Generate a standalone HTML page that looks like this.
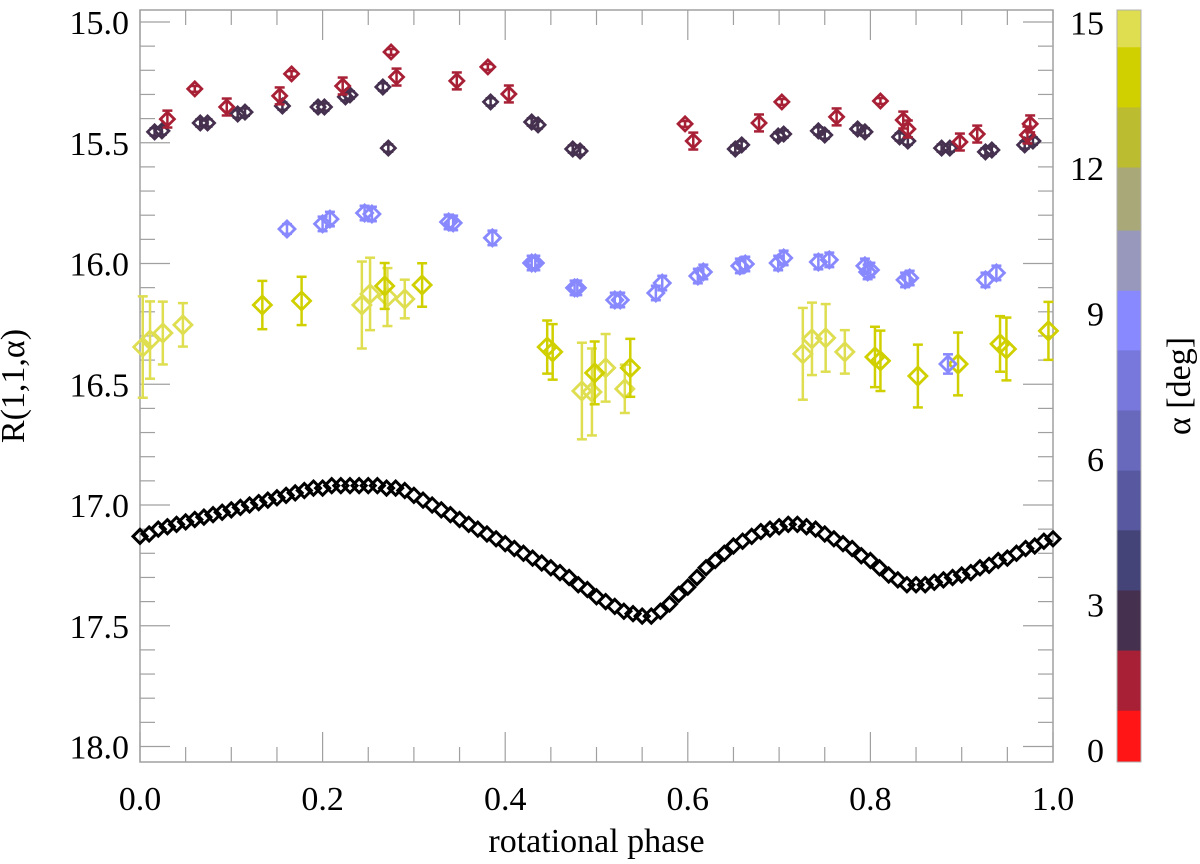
<!DOCTYPE html>
<html><head><meta charset="utf-8"><style>
html,body{margin:0;padding:0;background:#fff}
svg{display:block}
text{font-family:"Liberation Serif",serif;fill:#000}
</style></head><body>
<svg id="chart" width="1200" height="864" viewBox="0 0 1200 864" xmlns="http://www.w3.org/2000/svg"></svg>
<script>
// ---- data ----
const xTicks=[0,0.2,0.4,0.6,0.8,1.0];
const xTickLabels=["0.0","0.2","0.4","0.6","0.8","1.0"];
const yTicks=[15.0,15.5,16.0,16.5,17.0,17.5,18.0];
const yTickLabels=["15.0","15.5","16.0","16.5","17.0","17.5","18.0"];
const cbTicks=[0,3,6,9,12,15];
const cbEdges=[-0.25,0.82,2.06,3.30,4.54,5.77,7.01,8.25,9.48,10.72,12.02,13.26,14.5,15.26];
const cbColors=["#ff1515","#a82035","#46304f","#444478","#5858a0","#6868bc","#7878dc","#8888ff","#9898bc","#a8a878","#bcbc30","#d0d000","#dede50"];

const blackPhase=[0,.01,.02,.03,.04,.05,.06,.07,.08,.09,.10,.11,.12,.13,.14,.15,.16,.17,.18,.19,.20,.21,.22,.23,.24,.25,.26,.27,.28,.29,.30,.31,.32,.33,.34,.35,.36,.37,.38,.39,.40,.41,.42,.43,.44,.45,.46,.47,.48,.49,.50,.51,.52,.53,.54,.55,.56,.57,.58,.59,.60,.61,.62,.63,.64,.65,.66,.67,.68,.69,.70,.71,.72,.73,.74,.75,.76,.77,.78,.79,.80,.81,.82,.83,.84,.85,.86,.87,.88,.89,.90,.91,.92,.93,.94,.95,.96,.97,.98,.99,1.0];
const blackMag=[17.13,17.12,17.10,17.09,17.08,17.07,17.06,17.05,17.04,17.03,17.02,17.01,17.00,16.99,16.98,16.97,16.96,16.95,16.94,16.93,16.93,16.92,16.92,16.92,16.92,16.92,16.92,16.93,16.93,16.94,16.96,16.98,17.00,17.02,17.04,17.06,17.08,17.10,17.12,17.14,17.16,17.18,17.20,17.22,17.24,17.26,17.28,17.30,17.33,17.35,17.38,17.40,17.42,17.44,17.45,17.46,17.46,17.44,17.41,17.37,17.34,17.30,17.26,17.23,17.20,17.17,17.15,17.13,17.11,17.10,17.09,17.08,17.08,17.09,17.10,17.12,17.14,17.16,17.18,17.21,17.23,17.26,17.29,17.31,17.33,17.33,17.33,17.32,17.31,17.30,17.29,17.28,17.26,17.25,17.23,17.22,17.20,17.18,17.17,17.15,17.14];

const crimsonAlpha=1.5;
const crimsonPhase=[.060,.030,.095,.153,.166,.222,.275,.281,.347,.381,.404,.597,.606,.678,.703,.763,.811,.836,.841,.898,.917,.972,.975];
const crimsonMag=[15.277,15.402,15.352,15.306,15.215,15.265,15.124,15.228,15.244,15.186,15.298,15.422,15.493,15.418,15.331,15.393,15.327,15.406,15.443,15.497,15.464,15.468,15.422];
const crimsonErr=[.012,.035,.035,.035,.012,.035,.012,.035,.035,.012,.035,.012,.035,.035,.012,.035,.012,.035,.035,.035,.035,.035,.035];

const purpleAlpha=2.7;
const purplePhase=[.016,.024,.066,.074,.107,.115,.156,.195,.202,.225,.230,.266,.272,.384,.429,.436,.474,.482,.652,.659,.699,.705,.743,.750,.786,.794,.832,.841,.878,.887,.926,.933,.969,.978];
const purpleMag=[15.455,15.451,15.418,15.418,15.381,15.373,15.348,15.352,15.352,15.310,15.302,15.269,15.522,15.331,15.414,15.426,15.526,15.534,15.526,15.509,15.472,15.464,15.451,15.468,15.443,15.455,15.476,15.493,15.522,15.522,15.538,15.530,15.509,15.493];
const purpleErr=[.015,.015,.015,.015,.015,.015,.015,.015,.015,.015,.015,.015,.015,.015,.015,.015,.015,.015,.015,.015,.015,.015,.015,.015,.015,.015,.015,.015,.015,.015,.015,.015,.015,.015];

const blueAlpha=8.8;
const bluePhase=[.161,.200,.208,.246,.254,.338,.343,.386,.429,.433,.476,.479,.520,.526,.565,.572,.611,.617,.657,.663,.699,.705,.743,.755,.794,.797,.800,.838,.843,.885,.926,.938];
const blueMag=[15.857,15.836,15.816,15.791,15.795,15.828,15.832,15.894,15.998,15.998,16.101,16.101,16.151,16.151,16.122,16.081,16.052,16.035,16.010,16.002,15.998,15.977,15.994,15.985,16.010,16.035,16.027,16.068,16.060,16.416,16.068,16.039];
const blueErr=[.02,.03,.03,.03,.03,.03,.03,.03,.03,.03,.03,.03,.03,.03,.03,.03,.03,.03,.03,.03,.03,.03,.03,.03,.03,.03,.03,.03,.03,.04,.03,.03];

const yDarkAlpha=13.8;
const yDarkPhase=[.134,.177,.268,.309,.446,.452,.498,.537,.805,.811,.852,.896,.942,.949,.995];
const yDarkMag=[16.172,16.155,16.093,16.089,16.346,16.366,16.453,16.432,16.387,16.403,16.466,16.416,16.333,16.354,16.279];
const yDarkErr=[.10,.10,.095,.09,.11,.115,.13,.12,.125,.125,.13,.13,.115,.13,.12];

const yLightAlpha=14.8;
const yLightPhase=[.003,.011,.025,.047,.243,.252,.271,.290,.484,.495,.510,.531,.726,.736,.751,.772];
const yLightMag=[16.346,16.317,16.288,16.254,16.172,16.126,16.139,16.147,16.528,16.532,16.432,16.519,16.374,16.312,16.308,16.366];
const yLightErr=[.21,.16,.13,.09,.18,.15,.12,.08,.20,.18,.14,.10,.19,.15,.14,.09];

// ---- axes ----
const X0=140,X1=1053,YT=10,YB=762;
const xs=p=>X0+p*(X1-X0);
const ys=m=>22+(m-15)*241.5;
const CBX=1117,CBW=24;
const cbY=a=>750-a*48.5;
const NS="http://www.w3.org/2000/svg";
const svg=document.getElementById('chart');
function mk(tag,attrs,parent){const e=document.createElementNS(NS,tag);for(const k in attrs)e.setAttribute(k,attrs[k]);(parent||svg).appendChild(e);return e;}
function colorFor(a){for(let i=0;i<cbColors.length;i++){if(a>=cbEdges[i]&&a<cbEdges[i+1])return cbColors[i];}return cbColors[cbColors.length-1];}

let fr=mk('rect',{x:X0,y:YT,width:X1-X0,height:YB-YT,fill:'none',stroke:'#a0a0a0','stroke-width':1.5});


for(let i=0;i<=30;i++){const m=15+i*0.1;const y=ys(m);if(y<YT||y>YB)continue;const L=(i%5===0)?30:15;
 const t1=mk('line',{x1:X0,x2:X0+L,y1:y,y2:y,stroke:'#a0a0a0','stroke-width':1.2});
 
 
 const t2=mk('line',{x1:X1,x2:X1-L,y1:y,y2:y,stroke:'#a0a0a0','stroke-width':1.2});
 
 }
for(let i=0;i<=20;i++){const p=i*0.05;const x=xs(p);const L=(i%4===0)?30:15;
 const t1=mk('line',{x1:x,x2:x,y1:YB,y2:YB-L,stroke:'#a0a0a0','stroke-width':1.2});
 
 
 const t2=mk('line',{x1:x,x2:x,y1:YT,y2:YT+L,stroke:'#a0a0a0','stroke-width':1.2});
 
 }
yTicks.forEach((m,i)=>{const t=mk('text',{x:X0-11,y:ys(m)+12,'font-size':34,'text-anchor':'end'});t.textContent=yTickLabels[i];
 
 });
xTicks.forEach((p,i)=>{const t=mk('text',{x:xs(p),y:810,'font-size':34,'text-anchor':'middle'});t.textContent=xTickLabels[i];
 
 });
let xl=mk('text',{x:xs(0.5),y:852,'font-size':34,'text-anchor':'middle'});xl.textContent='rotational phase';


let yl=mk('text',{x:0,y:0,'font-size':34,'text-anchor':'middle',transform:'translate(24,386) rotate(-90)'});yl.textContent='R(1,1,α)';



for(let i=0;i<cbColors.length;i++){const yA=Math.max(YT,cbY(cbEdges[i+1])),yB=Math.min(YB,cbY(cbEdges[i]));
 const r=mk('rect',{x:CBX,y:yA,width:CBW,height:yB-yA+0.5,fill:cbColors[i]});
 
 }
let cbf=mk('rect',{x:CBX,y:YT,width:CBW,height:YB-YT,fill:'none',stroke:'#b0b0b0','stroke-width':1});


cbTicks.forEach(a=>{const t=mk('text',{x:1104,y:cbY(a)+12,'font-size':34,'text-anchor':'end'});t.textContent=String(a);
 
 });
let cl=mk('text',{x:0,y:0,'font-size':34,'text-anchor':'middle',transform:'translate(1190,386) rotate(-90)'});cl.textContent='α [deg]';



function diamond(p,m,h,col,sw,name){const x=xs(p),y=ys(m);
 const d=mk('polygon',{points:`${x},${y-h} ${x+h},${y} ${x},${y+h} ${x-h},${y}`,fill:'none',stroke:col,'stroke-width':sw});
 
 }
function errbar(p,m,e,col){const x=xs(p),y1=ys(m-e),y2=ys(m+e);const g=mk('g',{stroke:col,'stroke-width':2.5});
 
 
 mk('line',{x1:x,x2:x,y1:y1,y2:y2},g);mk('line',{x1:x-5,x2:x+5,y1:y1,y2:y1},g);mk('line',{x1:x-5,x2:x+5,y1:y2,y2:y2},g);}
function series(ph,mg,er,alpha,h,name){const col=colorFor(alpha);
 ph.forEach((p,i)=>{errbar(p,mg[i],er[i],col);diamond(p,mg[i],h,col,2.8,name);});}
series(yLightPhase,yLightMag,yLightErr,yLightAlpha,9,'point-alpha-14.8');
series(yDarkPhase,yDarkMag,yDarkErr,yDarkAlpha,9,'point-alpha-13.8');
series(bluePhase,blueMag,blueErr,blueAlpha,8,'point-alpha-8.8');
series(purplePhase,purpleMag,purpleErr,purpleAlpha,7,'point-alpha-2.7');
series(crimsonPhase,crimsonMag,crimsonErr,crimsonAlpha,7,'point-alpha-1.5');
blackPhase.forEach((p,i)=>diamond(p,blackMag[i],7,'#000',3,'reference-lightcurve-point'));
</script>
</body></html>
